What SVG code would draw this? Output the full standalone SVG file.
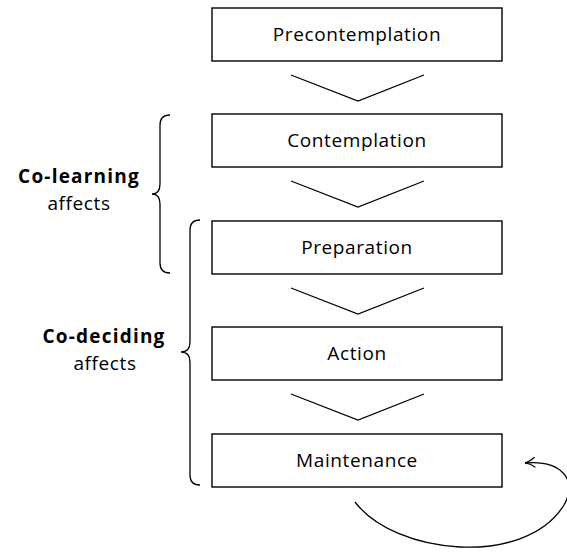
<svg xmlns="http://www.w3.org/2000/svg" width="567" height="552" viewBox="0 0 567 552">
<style>
.box{fill:#fff;stroke:#000;stroke-width:1.4}
.lbl{font-family:"Open Sans","Liberation Sans",sans-serif;font-size:19px;letter-spacing:0.6px;fill:#000;text-anchor:middle}
.bold{font-weight:bold;letter-spacing:1.2px}
.ln{fill:none;stroke:#000;stroke-width:1.3}
</style>
<defs>
<marker id="ah" viewBox="0 0 12 12" refX="11" refY="6" markerWidth="12" markerHeight="12" markerUnits="userSpaceOnUse" orient="auto">
<path d="M1,1 Q6,5 11,6 Q6,7 1,11" fill="none" stroke="#000" stroke-width="1.2"/>
</marker>
</defs>
<rect width="567" height="552" fill="#fff"/>
<g id="n1"><rect class="box" x="212" y="8" width="290" height="53"/><text class="lbl" x="357" y="41">Precontemplation</text></g>
<g id="n2"><rect class="box" x="212" y="114" width="290" height="53"/><text class="lbl" x="357" y="147">Contemplation</text></g>
<g id="n3"><rect class="box" x="212" y="221" width="290" height="53"/><text class="lbl" x="357" y="254">Preparation</text></g>
<g id="n4"><rect class="box" x="212" y="327" width="290" height="53"/><text class="lbl" x="357" y="360">Action</text></g>
<g id="n5"><rect class="box" x="212" y="434" width="290" height="53"/><text class="lbl" x="357" y="467">Maintenance</text></g>
<g id="connectors">
<path class="ln" d="M291,75 L358,101 L424,75"/>
<path class="ln" d="M291,181 L358,207 L424,181"/>
<path class="ln" d="M291,288 L358,314 L424,288"/>
<path class="ln" d="M291,394 L358,420 L424,394"/>
<path class="ln" d="M355,502 C395,555 525,568 564,505 C578,480 562,460 525,463" marker-end="url(#ah)"/>
</g>
<g id="colearning">
<path class="ln" stroke-width="1.5" d="M170,115 Q160,115 160,125 L160,184 Q160,194 152,194 Q160,194 160,204 L160,263 Q160,273 170,273"/>
<text class="lbl bold" x="79" y="183">Co-learning</text>
<text class="lbl" x="79" y="210">affects</text>
</g>
<g id="codeciding">
<path class="ln" stroke-width="1.5" d="M200,220 Q190,220 190,230 L190,342 Q190,352 181,352 Q190,352 190,362 L190,475 Q190,485 200,485"/>
<text class="lbl bold" x="104" y="343">Co-deciding</text>
<text class="lbl" x="105" y="370">affects</text>
</g>
</svg>
